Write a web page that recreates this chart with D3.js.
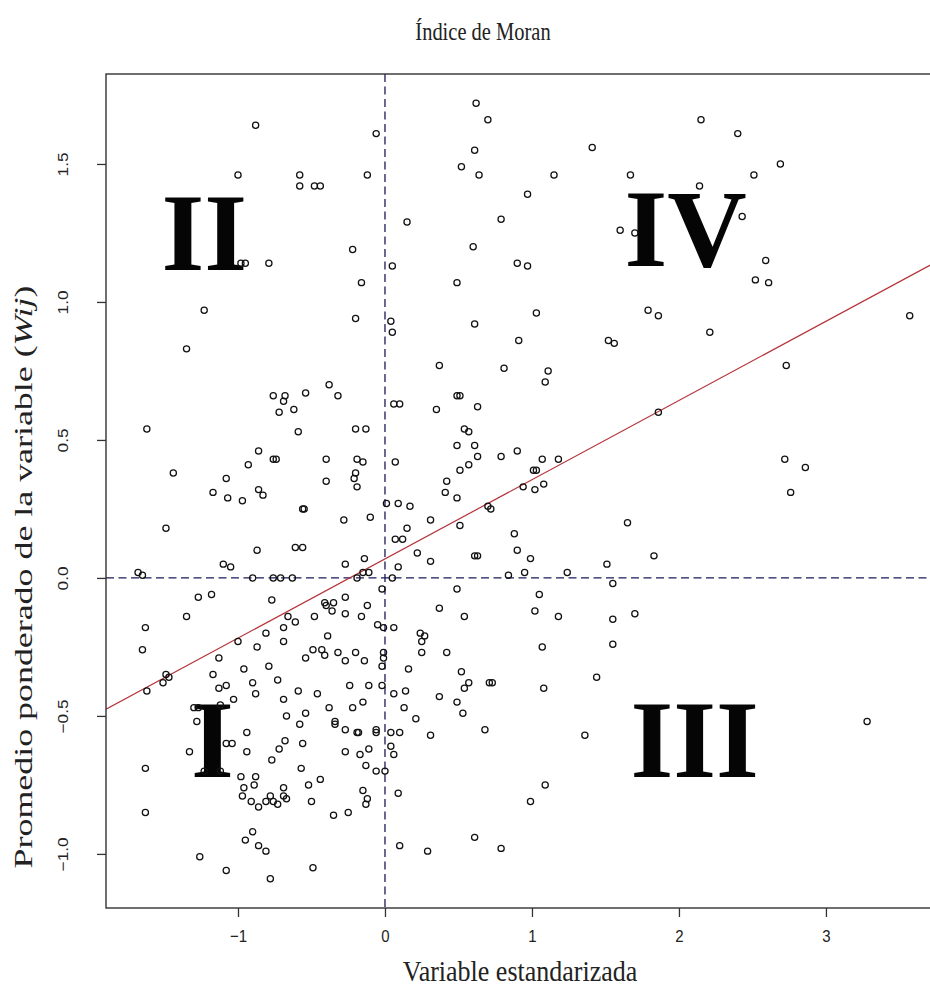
<!DOCTYPE html>
<html>
<head>
<meta charset="utf-8">
<script src="https://cdn.jsdelivr.net/npm/d3@7"></script>
<style>
body { margin: 0; background: #fff; }
</style>
</head>
<body>
<div id="vis"></div>
<script>
// variable estandarizada (z) para cada observacion
var varEst = [
 -0.88,-0.06,-1.00,-0.58,-0.58,-0.48,-0.44,-0.12,-0.22,-0.98,-0.95,-0.79,-0.16,-1.23,-0.20,0.05,0.04,0.05,
 0.62,0.70,0.61,0.52,0.64,1.15,1.41,1.67,0.97,0.15,0.79,1.60,1.70,0.60,0.90,0.97,0.49,1.03,0.61,1.79,1.86,
 2.15,2.40,2.69,2.51,2.14,2.43,2.59,2.52,2.61,2.21,3.57,2.73,2.72,2.86,2.76,
 0.91,1.52,1.56,0.37,0.81,1.11,1.09,0.49,0.51,0.06,0.10,0.35,0.63,1.86,0.54,0.57,0.49,0.61,0.63,0.90,
 0.79,1.07,1.18,0.07,0.57,0.51,1.01,1.03,0.42,0.41,0.49,0.94,1.02,1.08,0.01,0.09,0.17,0.70,0.72,0.31,
 0.15,0.51,1.65,0.07,0.12,0.88,0.22,0.31,0.61,0.63,0.90,0.99,1.83,0.09,0.84,0.95,1.24,1.51,1.55,0.05,
 -0.02,0.49,1.05,0.37,0.54,1.02,1.18,1.55,1.70,
 -0.01,0.06,0.24,0.27,0.25,0.25,0.42,1.07,1.55,-0.01,-0.01,-0.02,0.16,0.52,0.57,0.54,0.71,0.73,1.44,1.08,
 -0.02,0.14,0.06,0.37,0.49,0.53,0.13,0.21,0.68,1.36,0.04,0.10,0.31,0.04,0.06,0.00,0.09,1.09,0.99,0.10,
 0.29,0.61,0.79,3.28,
 -1.35,-0.38,-0.32,-0.54,-0.76,-0.68,-0.69,-0.72,-0.62,-1.62,-0.59,-0.20,-0.13,-0.86,-0.76,-0.74,-0.40,-0.19,-0.15,-0.93,
 -1.44,-1.08,-0.40,-0.20,-0.21,-0.19,-1.17,-1.07,-0.97,-0.86,-0.83,-0.56,-0.55,-1.49,-0.28,-0.10,-0.87,-0.61,-0.56,-0.14,
 -0.27,-1.68,-1.65,-1.10,-1.05,-0.90,-0.76,-0.71,-0.63,-0.19,-0.15,-0.11,-1.27,-1.18,-0.77,-0.27,-1.35,-0.41,-0.35,-0.40,
 -0.12,-0.36,-0.27,-0.16,-0.48,-0.66,-0.61,
 -0.05,-1.63,-1.65,-0.69,-0.81,-0.69,-0.39,-1.00,-0.87,-0.49,-0.43,-0.41,-0.54,-0.32,-0.27,-0.20,-0.14,-1.13,-0.79,-0.96,
 -1.17,-1.49,-1.51,-1.47,-1.62,-0.73,-0.90,-1.13,-1.08,-0.88,-1.03,-0.69,-0.59,-0.46,-0.24,-0.11,-0.38,-0.22,-0.15,-0.67,
 -0.54,-1.30,-1.27,-1.12,-1.28,-0.58,-0.34,-0.34,-0.27,-0.19,-0.18,-0.06,-0.06,-0.94,-1.08,-1.04,-0.68,-0.56,-0.72,-0.94,
 -0.27,-0.17,-0.11,-0.13,-0.06,-1.33,-0.77,-0.57,-1.63,-1.23,-1.12,-0.98,-0.88,-0.44,-0.52,-0.96,-0.89,-0.69,-0.69,-0.67,
 -0.97,-0.91,-0.86,-0.81,-0.78,-0.76,-0.73,-0.50,-0.15,-0.12,-0.13,-1.63,-0.35,-0.25,-0.90,-0.95,-0.86,-0.81,-1.26,-1.08,
 -0.49,-0.78
];

// promedio ponderado de los vecinos (Wij)
var lagW = [
 1.64,1.61,1.46,1.46,1.42,1.42,1.42,1.46,1.19,1.14,1.14,1.14,1.07,0.97,0.94,1.13,0.93,0.89,
 1.72,1.66,1.55,1.49,1.46,1.46,1.56,1.46,1.39,1.29,1.30,1.26,1.25,1.20,1.14,1.13,1.07,0.96,0.92,0.97,0.95,
 1.66,1.61,1.50,1.46,1.42,1.31,1.15,1.08,1.07,0.89,0.95,0.77,0.43,0.40,0.31,
 0.86,0.86,0.85,0.77,0.76,0.75,0.71,0.66,0.66,0.63,0.63,0.61,0.62,0.60,0.54,0.53,0.48,0.48,0.44,0.46,
 0.44,0.43,0.43,0.42,0.41,0.39,0.39,0.39,0.35,0.31,0.29,0.33,0.32,0.34,0.27,0.27,0.26,0.26,0.25,0.21,
 0.18,0.19,0.20,0.14,0.14,0.16,0.09,0.06,0.08,0.08,0.10,0.07,0.08,0.04,0.01,0.02,0.02,0.05,-0.02,0.00,
 -0.04,-0.04,-0.06,-0.11,-0.14,-0.12,-0.14,-0.15,-0.13,
 -0.18,-0.18,-0.20,-0.21,-0.23,-0.27,-0.27,-0.25,-0.24,-0.27,-0.29,-0.32,-0.33,-0.34,-0.38,-0.40,-0.38,-0.38,-0.36,-0.40,
 -0.39,-0.41,-0.42,-0.43,-0.45,-0.49,-0.47,-0.51,-0.55,-0.57,-0.56,-0.56,-0.57,-0.61,-0.64,-0.70,-0.78,-0.75,-0.81,-0.97,
 -0.99,-0.94,-0.98,-0.52,
 0.83,0.70,0.66,0.67,0.66,0.66,0.64,0.60,0.61,0.54,0.53,0.54,0.54,0.46,0.43,0.43,0.43,0.43,0.42,0.41,
 0.38,0.36,0.35,0.38,0.36,0.33,0.31,0.29,0.28,0.32,0.30,0.25,0.25,0.18,0.21,0.22,0.10,0.11,0.11,0.07,
 0.05,0.02,0.01,0.05,0.04,0.00,0.00,0.00,0.00,0.00,0.02,0.02,-0.07,-0.06,-0.08,-0.07,-0.14,-0.09,-0.09,-0.10,
 -0.10,-0.12,-0.13,-0.14,-0.14,-0.14,-0.16,
 -0.17,-0.18,-0.26,-0.18,-0.20,-0.23,-0.21,-0.23,-0.25,-0.26,-0.26,-0.28,-0.29,-0.27,-0.30,-0.27,-0.30,-0.29,-0.32,-0.33,
 -0.35,-0.35,-0.38,-0.36,-0.41,-0.37,-0.38,-0.40,-0.39,-0.42,-0.44,-0.44,-0.41,-0.42,-0.39,-0.39,-0.47,-0.47,-0.45,-0.50,
 -0.49,-0.47,-0.47,-0.46,-0.52,-0.53,-0.52,-0.53,-0.55,-0.56,-0.56,-0.55,-0.56,-0.56,-0.60,-0.60,-0.59,-0.60,-0.62,-0.63,
 -0.63,-0.64,-0.62,-0.68,-0.70,-0.63,-0.66,-0.69,-0.69,-0.70,-0.70,-0.72,-0.72,-0.73,-0.75,-0.76,-0.75,-0.76,-0.79,-0.80,
 -0.79,-0.81,-0.83,-0.81,-0.79,-0.81,-0.82,-0.81,-0.77,-0.80,-0.82,-0.85,-0.86,-0.85,-0.92,-0.95,-0.97,-0.99,-1.01,-1.06,
 -1.05,-1.09
];

var xTicks = [-1, 0, 1, 2, 3];
var yTicks = [-1.0, -0.5, 0.0, 0.5, 1.0, 1.5];

// recta de regresion de Wij sobre z (pendiente = I de Moran)
var moranI = 0.287;
var intercepto = 0.069;

// etiquetas de cuadrante y su esquina inferior izquierda en unidades de datos
var quadLabels = ["II", "IV", "I", "III"];
var quadX = [-1.52, 1.63, -1.32, 1.67];
var quadY = [1.115, 1.13, -0.72, -0.72];

var width = 930, height = 992;
var plot = {left: 106, right: 945, top: 74, bottom: 908};

var svg = d3.select("#vis").append("svg")
	.attr("width", width)
	.attr("height", height)
	.style("display", "block");

var x = d3.scaleLinear().domain([-1.898, 3.81]).range([plot.left, plot.right]);
var y = d3.scaleLinear().domain([-1.196, 1.826]).range([plot.bottom, plot.top]);

svg.append("clipPath").attr("id", "clip")
	.append("rect")
	.attr("x", plot.left).attr("y", plot.top)
	.attr("width", plot.right - plot.left).attr("height", plot.bottom - plot.top);

var serif = "'Liberation Serif', 'Times New Roman', serif";
var sans = "'Liberation Sans', Arial, sans-serif";

// titulo
svg.append("text")
	.attr("transform", "translate(483,40) scale(1,1.18)")
	.attr("text-anchor", "middle")
	.attr("font-family", serif)
	.attr("font-size", 20.5)
	.attr("fill", "#222")
	.text("Índice de Moran");

// etiquetas de cuadrante
var quads = quadLabels.map((t, i) => ({t: t, x: quadX[i], y: quadY[i]}));
svg.append("g").selectAll("text")
	.data(quads)
	.enter().append("text")
	.attr("x", d => x(d.x))
	.attr("y", d => y(d.y))
	.attr("font-family", serif)
	.attr("font-weight", "bold")
	.attr("font-size", 110)
	.attr("fill", "#050505")
	.text(d => d.t);

var inner = svg.append("g").attr("clip-path", "url(#clip)");

// lineas de referencia en cero
inner.append("line")
	.attr("x1", x(0)).attr("x2", x(0))
	.attr("y1", plot.top).attr("y2", plot.bottom)
	.attr("stroke", "#1a1a5a").attr("stroke-width", 1.3)
	.attr("stroke-dasharray", "8,4.5");

inner.append("line")
	.attr("x1", plot.left).attr("x2", plot.right)
	.attr("y1", y(0)).attr("y2", y(0))
	.attr("stroke", "#1a1a5a").attr("stroke-width", 1.3)
	.attr("stroke-dasharray", "8,4.5");

// recta de regresion
var xd = x.domain();
inner.append("line")
	.attr("x1", x(xd[0])).attr("y1", y(intercepto + moranI * xd[0]))
	.attr("x2", x(xd[1])).attr("y2", y(intercepto + moranI * xd[1]))
	.attr("stroke", "#b5333a").attr("stroke-width", 1.2);

// puntos
var pts = varEst.map((v, i) => ({z: v, w: lagW[i]}));
inner.selectAll("circle")
	.data(pts)
	.enter().append("circle")
	.attr("cx", d => x(d.z))
	.attr("cy", d => y(d.w))
	.attr("r", 3.1)
	.attr("fill", "none")
	.attr("stroke", "#111")
	.attr("stroke-width", 1.25);

// marco
svg.append("rect")
	.attr("x", plot.left).attr("y", plot.top)
	.attr("width", plot.right - plot.left).attr("height", plot.bottom - plot.top)
	.attr("fill", "none").attr("stroke", "#333").attr("stroke-width", 1.4);

// eje x
var gx = svg.append("g")
	.attr("transform", "translate(0," + plot.bottom + ")")
	.call(d3.axisBottom(x).tickValues(xTicks).tickSize(9).tickFormat(d3.format("d")));
gx.select(".domain").remove();
gx.selectAll("line").attr("stroke", "#333").attr("stroke-width", 1.3);
gx.selectAll("text")
	.attr("y", 0).attr("dy", 0)
	.attr("transform", "translate(0,34) scale(1,1.15)")
	.attr("font-family", sans).attr("font-size", 15).attr("fill", "#222");

// eje y
var gy = svg.append("g")
	.attr("transform", "translate(" + plot.left + ",0)")
	.call(d3.axisLeft(y).tickValues(yTicks).tickSize(9).tickFormat(d3.format(".1f")));
gy.select(".domain").remove();
gy.selectAll("line").attr("stroke", "#333").attr("stroke-width", 1.3);
gy.selectAll("text")
	.attr("x", 0).attr("dy", 0)
	.attr("text-anchor", "middle")
	.attr("transform", "translate(-38,0) rotate(-90) scale(1.15,1)")
	.attr("font-family", sans).attr("font-size", 15).attr("fill", "#222");

// titulos de ejes
svg.append("text")
	.attr("transform", "translate(520,981) scale(1,1.15)")
	.attr("text-anchor", "middle")
	.attr("font-family", serif)
	.attr("font-size", 26)
	.attr("fill", "#222")
	.text("Variable estandarizada");

var ylab = svg.append("text")
	.attr("transform", "translate(32,577) rotate(-90) scale(1.38,1)")
	.attr("text-anchor", "middle")
	.attr("font-family", serif)
	.attr("font-size", 26)
	.attr("fill", "#222");
ylab.append("tspan").text("Promedio ponderado de la variable (");
ylab.append("tspan").attr("font-style", "italic").text("Wij");
ylab.append("tspan").text(")");
</script>
</body>
</html>
